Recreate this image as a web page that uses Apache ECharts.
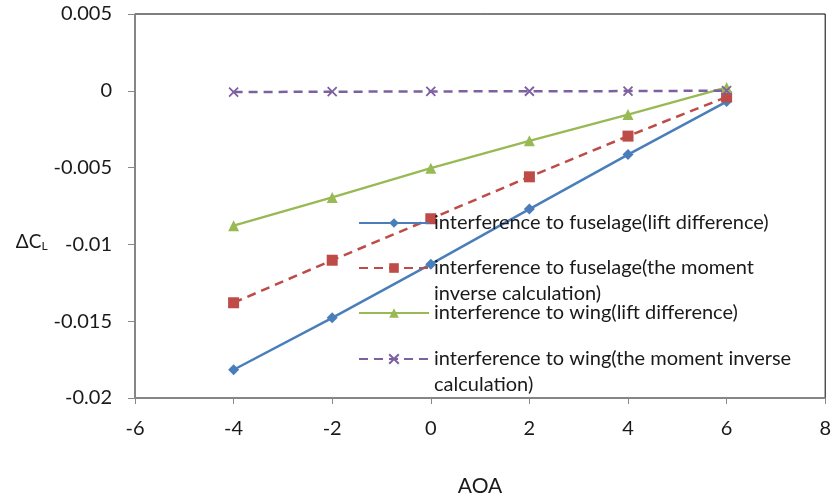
<!DOCTYPE html>
<html>
<head>
<meta charset="utf-8">
<script src="https://cdn.jsdelivr.net/npm/echarts@6/dist/echarts.min.js"></script>
<style>
  html, body { margin: 0; padding: 0; background: #fff; }
  #chart { width: 834px; height: 502px; }
</style>
</head>
<body>
<div id="chart"></div>
<script>
// Angle of attack (deg)
const aoa = [-4, -2, 0, 2, 4, 6];

// Interference increments of the lift coefficient
const fuselageLift   = [-0.01816, -0.01478, -0.01129, -0.00770, -0.00415, -0.00070];
const fuselageMoment = [-0.01380, -0.01103, -0.00833, -0.00560, -0.00295, -0.00040];
const wingLift       = [-0.00878, -0.00694, -0.00504, -0.00326, -0.00155, 0.00022];
const wingMoment     = [-0.00008, -0.00006, -0.00004, -0.00003, -0.00002, 0.00001];

const seriesNames = [
  'interference to fuselage(lift difference)',
  'interference to fuselage(the moment inverse calculation)',
  'interference to wing(lift difference)',
  'interference to wing(the moment inverse calculation)'
];
// Wrapped legend text; a leading blank line keeps the symbol level with the first line
const legendLabels = [
  'interference to fuselage(lift difference)',
  ' \ninterference to fuselage(the moment\ninverse calculation)',
  'interference to wing(lift difference)',
  ' \ninterference to wing(the moment inverse\ncalculation)'
];

const xTicks = { min: -6, max: 8, interval: 2 };
const yTicks = { min: -0.02, max: 0.005, interval: 0.005 };

const FONT = 'Lato';
const colors = ['#4a7ebb', '#be4b48', '#98b954', '#7d60a0'];
const crossPath = 'path://M0,0L10,10M0,10L10,0';

const pairs = ys => aoa.map((x, i) => [x, ys[i]]);

const chart = echarts.init(document.getElementById('chart'), null, { renderer: 'canvas' });

const LINE_H = 26;
function legendAt(i, centerY, twoLines) {
  const boxH = twoLines ? LINE_H * 3 : LINE_H;
  return {
    data: [seriesNames[i]],
    orient: 'vertical',
    left: 358,
    top: centerY - boxH / 2,
    itemWidth: 70,
    itemHeight: 12,
    itemGap: 0,
    padding: 0,
    selectedMode: false,
    formatter: () => legendLabels[i],
    textStyle: {
      fontFamily: FONT,
      fontSize: 20,
      color: '#1a1a1a',
      lineHeight: LINE_H
    }
  };
}

chart.setOption({
  animation: false,
  backgroundColor: '#fff',
  grid: {
    left: 135, right: 8, top: 14, bottom: 93,
    show: true, borderColor: '#000', borderWidth: 1
  },
  legend: [
    legendAt(0, 223, false),
    legendAt(1, 268, true),
    legendAt(2, 313, false),
    legendAt(3, 359, true)
  ],
  xAxis: {
    type: 'value',
    min: xTicks.min, max: xTicks.max, interval: xTicks.interval,
    name: 'AOA',
    nameLocation: 'middle',
    nameGap: 78,
    nameTextStyle: { fontFamily: FONT, fontSize: 21, color: '#1a1a1a' },
    axisLine: { show: true, onZero: false, lineStyle: { color: '#888', width: 1.5 } },
    axisTick: { show: true, inside: false, length: 6, lineStyle: { color: '#888' } },
    axisLabel: { fontFamily: FONT, fontSize: 20, color: '#1a1a1a', margin: 21 },
    splitLine: { show: false }
  },
  yAxis: {
    type: 'value',
    min: yTicks.min, max: yTicks.max, interval: yTicks.interval,
    name: '{d|ΔC}{s|L}',
    nameLocation: 'middle',
    nameRotate: 0,
    nameGap: 84,
    nameTextStyle: {
      padding: [72, 0, 0, 0],
      rich: {
        d: { fontFamily: FONT, fontSize: 19, color: '#1a1a1a' },
        s: { fontFamily: FONT, fontSize: 12, color: '#1a1a1a', padding: [9, 0, 0, 0] }
      }
    },
    axisLine: { show: true, onZero: false, lineStyle: { color: '#888', width: 1.5 } },
    axisTick: { show: true, inside: false, length: 7, lineStyle: { color: '#888' } },
    axisLabel: {
      fontFamily: FONT, fontSize: 20, color: '#1a1a1a', margin: 23,
      formatter: v => String(parseFloat(v.toFixed(4)))
    },
    splitLine: { show: false }
  },
  series: [
    {
      name: seriesNames[0], type: 'line', data: pairs(fuselageLift),
      symbol: 'diamond', symbolSize: 11,
      lineStyle: { color: colors[0], width: 2.5 },
      itemStyle: { color: colors[0] }
    },
    {
      name: seriesNames[1], type: 'line', data: pairs(fuselageMoment),
      symbol: 'rect', symbolSize: 11,
      lineStyle: { color: colors[1], width: 2.5, type: [9, 6] },
      itemStyle: { color: colors[1] }
    },
    {
      name: seriesNames[2], type: 'line', data: pairs(wingLift),
      symbol: 'triangle', symbolSize: 11,
      lineStyle: { color: colors[2], width: 2.3 },
      itemStyle: { color: colors[2] }
    },
    {
      name: seriesNames[3], type: 'line', data: pairs(wingMoment),
      symbol: crossPath, symbolSize: 9,
      lineStyle: { color: colors[3], width: 2.5, type: [9, 6] },
      itemStyle: { color: colors[3], borderColor: colors[3], borderWidth: 1.8 }
    }
  ]
});
</script>
</body>
</html>
